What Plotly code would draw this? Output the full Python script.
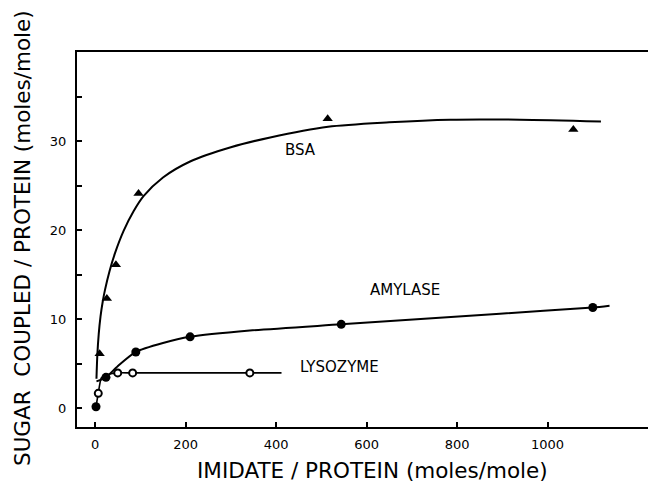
import plotly.graph_objects as go

# --- data ---
bsa_x = [10, 26, 46, 96, 514, 1057]
bsa_y = [6.1, 12.3, 16.1, 24.1, 32.5, 31.3]
bsa_curve_x = [3, 5, 8, 12, 17, 22, 32, 44, 63, 85, 107, 150, 210, 300, 387, 515, 650, 785, 939, 1118]
bsa_curve_y = [3.3, 6.0, 8.3, 10.3, 12.0, 13.3, 15.4, 17.4, 19.9, 22.1, 23.8, 25.9, 27.7, 29.3, 30.4, 31.6, 32.1, 32.4, 32.4, 32.2]

amy_x = [2, 24, 90, 210, 544, 1100]
amy_y = [0.15, 3.45, 6.3, 8.0, 9.4, 11.3]
amy_curve_x = [3, 24, 50, 90, 150, 210, 342, 544, 895, 1100, 1137]
amy_curve_y = [3.0, 3.45, 4.7, 6.3, 7.3, 8.0, 8.7, 9.4, 10.6, 11.3, 11.5]

lys_x = [7, 50, 83, 342]
lys_y = [1.65, 3.95, 3.95, 3.95]
lys_curve_x = [2, 7, 14, 30, 50, 83, 342, 412]
lys_curve_y = [0.15, 1.65, 3.4, 3.8, 3.95, 3.95, 3.95, 3.95]

labels = ["BSA", "AMYLASE", "LYSOZYME"]
label_x = [453, 685, 541]
label_y = [29.0, 13.3, 4.6]

xticks = [0, 200, 400, 600, 800, 1000]
yticks = [0, 5, 10, 15, 20, 25, 30, 35]
yticklabels = ["0", "", "10", "", "20", "", "30", ""]

FONT = "DejaVu Sans"

fig = go.Figure()

fig.add_trace(go.Scatter(x=bsa_curve_x, y=bsa_curve_y, mode="lines",
                         line=dict(shape="spline", smoothing=0.8, color="black", width=2)))
fig.add_trace(go.Scatter(x=amy_curve_x, y=amy_curve_y, mode="lines",
                         line=dict(shape="spline", smoothing=0.6, color="black", width=2)))
fig.add_trace(go.Scatter(x=lys_curve_x, y=lys_curve_y, mode="lines",
                         line=dict(shape="spline", smoothing=0.5, color="black", width=1.6)))

fig.add_trace(go.Scatter(x=bsa_x, y=bsa_y, mode="markers",
                         marker=dict(symbol="triangle-up", size=9, color="black")))
fig.add_trace(go.Scatter(x=amy_x, y=amy_y, mode="markers",
                         marker=dict(symbol="circle", size=9, color="black")))
fig.add_trace(go.Scatter(x=lys_x, y=lys_y, mode="markers",
                         marker=dict(symbol="circle", size=7, color="white",
                                     line=dict(color="black", width=2))))

for t, x, y in zip(labels, label_x, label_y):
    fig.add_annotation(x=x, y=y, text=t, showarrow=False,
                       font=dict(family=FONT, size=15, color="black"))

# axis titles
fig.add_annotation(xref="paper", yref="paper", x=0.517, y=-0.1147,
                   xanchor="center", yanchor="middle",
                   text="IMIDATE / PROTEIN (moles/mole)", showarrow=False,
                   font=dict(family=FONT, size=21.5, color="black"))
fig.add_annotation(xref="paper", yref="paper", x=-0.0963, y=0.504, textangle=-90,
                   xanchor="center", yanchor="middle",
                   text="SUGAR  COUPLED / PROTEIN (moles/mole)", showarrow=False,
                   font=dict(family=FONT, size=21.5, color="black"))

fig.update_layout(
    width=648, height=487,
    margin=dict(l=77, r=0, t=52, b=60),
    paper_bgcolor="white", plot_bgcolor="white",
    showlegend=False,
    font=dict(family=FONT, size=13, color="black"),
    xaxis=dict(range=[-40, 1222], tickvals=xticks, ticks="inside", ticklen=5,
               tickwidth=1.5, tickcolor="black", showgrid=False, zeroline=False,
               showline=True, linecolor="black", linewidth=2, mirror=True,
               ticklabelstandoff=4, tickfont=dict(size=13)),
    yaxis=dict(range=[-2.13, 40], tickvals=yticks, ticktext=yticklabels,
               ticks="inside", ticklen=5, tickwidth=1.5, tickcolor="black",
               showgrid=False, zeroline=False, showline=True, linecolor="black",
               linewidth=2, ticklabelstandoff=6, tickfont=dict(size=13)),
)

# remove the browser's default 8px body margin so the figure fills the window
fig.write_html("out.html",
               config={"displayModeBar": False},
               post_script="document.body.style.margin='0';document.body.style.overflow='hidden';")
